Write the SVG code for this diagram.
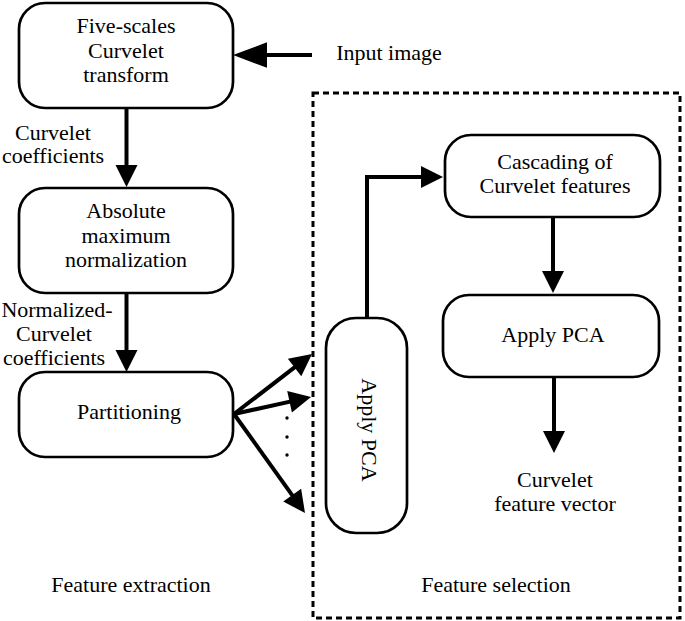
<svg xmlns="http://www.w3.org/2000/svg" width="685" height="621" viewBox="0 0 685 621">
<style>
.box{fill:#fff;stroke:#000;stroke-width:2.7}
.ln{fill:none;stroke:#000;stroke-width:4}
text{font-family:'Liberation Serif','DejaVu Serif',serif;font-size:22px;fill:#000;text-anchor:middle}
.dash{fill:none;stroke:#000;stroke-width:3;stroke-dasharray:6 4}
</style>
<defs>
<marker id="ah" markerUnits="userSpaceOnUse" markerWidth="24" markerHeight="24" viewBox="0 0 22 24" refX="11" refY="12" orient="auto"><path d="M0,1 L22,12 L0,23 z" fill="#000"/></marker>
<marker id="ahL" markerUnits="userSpaceOnUse" markerWidth="34" markerHeight="26" viewBox="0 0 32 24" refX="16" refY="12" orient="auto"><path d="M0,0 L32,12 L0,24 z" fill="#000"/></marker>
</defs>
<rect id="selection-frame" class="dash" x="313" y="93" width="367" height="525"/>
<g id="n-curvelet"><rect class="box" x="19" y="3" width="214" height="105" rx="26"/><text x="126" y="33">Five-scales</text><text x="126" y="58">Curvelet</text><text x="126" y="82">transform</text></g>
<g id="n-input"><text x="389" y="60">Input image</text></g>
<g id="n-norm"><rect class="box" x="19" y="188" width="214" height="105" rx="26"/><text x="126" y="218">Absolute</text><text x="126" y="243">maximum</text><text x="126" y="267">normalization</text></g>
<g id="n-part"><rect class="box" x="19" y="372" width="214" height="85" rx="26"/><text x="129" y="419">Partitioning</text></g>
<g id="n-pca1"><rect class="box" x="326" y="318" width="81" height="215" rx="30"/><text transform="translate(362,430) rotate(90)">Apply PCA</text></g>
<g id="n-cascade"><rect class="box" x="445" y="135" width="215" height="82" rx="26"/><text x="555" y="169">Cascading of</text><text x="555" y="193">Curvelet features</text></g>
<g id="n-pca2"><rect class="box" x="443" y="295" width="216" height="82" rx="26"/><text x="553" y="342">Apply PCA</text></g>
<g id="n-output"><text x="555" y="487">Curvelet</text><text x="555" y="511">feature vector</text></g>
<g id="labels">
<text x="53" y="140">Curvelet</text><text x="53" y="163">coefficients</text>
<text x="57" y="317">Normalized-</text><text x="54" y="341">Curvelet</text><text x="54" y="365">coefficients</text>
<text x="131" y="592">Feature extraction</text>
<text x="496" y="592">Feature selection</text>
</g>
<g id="connectors">
<line class="ln" x1="312" y1="55" x2="250" y2="55" marker-end="url(#ahL)"/>
<line class="ln" x1="126.5" y1="108" x2="126.5" y2="176" marker-end="url(#ah)"/>
<line class="ln" x1="126.5" y1="293" x2="126.5" y2="361" marker-end="url(#ah)"/>
<line class="ln" x1="234" y1="414" x2="303.3" y2="360.7" marker-end="url(#ah)"/>
<line class="ln" x1="234" y1="414" x2="300.3" y2="399.4" marker-end="url(#ah)"/>
<line class="ln" x1="234" y1="414" x2="298.6" y2="504.1" marker-end="url(#ah)"/>
<path class="ln" d="M367,318 L367,177 L432,177" marker-end="url(#ah)"/>
<line class="ln" x1="553" y1="217" x2="553" y2="282" marker-end="url(#ah)"/>
<line class="ln" x1="554" y1="377" x2="554" y2="442" marker-end="url(#ah)"/>
<circle cx="287" cy="418" r="1.7"/><circle cx="287" cy="437" r="1.7"/><circle cx="287" cy="455" r="1.7"/>
</g>
</svg>
